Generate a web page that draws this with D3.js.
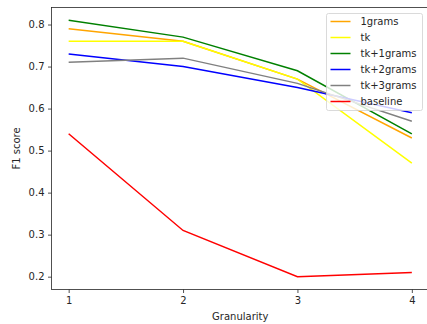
<!DOCTYPE html>
<html>
<head>
<meta charset="utf-8">
<script src="https://cdn.jsdelivr.net/npm/d3@7"></script>
<style>
  body { margin: 0; background: #fff; }
  text { font-family: "DejaVu Sans", sans-serif; fill: #262626; }
</style>
</head>
<body>
<div id="chart"></div>
<script>
var granularity = [1, 2, 3, 4];
var seriesNames = ['1grams', 'tk', 'tk+1grams', 'tk+2grams', 'tk+3grams', 'baseline'];
var seriesColors = ['orange', 'yellow', 'green', 'blue', 'gray', 'red'];
var grams1 = [0.79, 0.76, 0.67, 0.53];
var tk = [0.76, 0.76, 0.67, 0.47];
var tk1grams = [0.81, 0.77, 0.69, 0.54];
var tk2grams = [0.73, 0.70, 0.65, 0.59];
var tk3grams = [0.71, 0.72, 0.66, 0.57];
var baseline = [0.54, 0.31, 0.20, 0.21];
var yTicks = [0.2, 0.3, 0.4, 0.5, 0.6, 0.7, 0.8];

var seriesValues = [grams1, tk, tk1grams, tk2grams, tk3grams, baseline];

var width = 427, height = 324;
var margin = { left: 51.5, top: 7.5, right: -2, bottom: 34.5 };

var svg = d3.select('#chart').append('svg')
  .attr('width', width)
  .attr('height', height);

// matplotlib-style 5% padding
var x = d3.scaleLinear().domain([0.85, 4.15])
  .range([margin.left, width - margin.right]);
var y = d3.scaleLinear().domain([0.1695, 0.8405])
  .range([height - margin.bottom, margin.top]);

var line = d3.line()
  .x(function(d, i) { return x(granularity[i]); })
  .y(function(d) { return y(d); });

svg.append('g').selectAll('path')
  .data(seriesValues)
  .enter().append('path')
  .attr('d', line)
  .attr('fill', 'none')
  .attr('stroke', function(d, i) { return seriesColors[i]; })
  .attr('stroke-width', 1.5);

// axes
var xAxis = svg.append('g')
  .attr('transform', 'translate(0,' + (height - margin.bottom) + ')')
  .call(d3.axisBottom(x).tickValues(granularity).tickFormat(d3.format('d'))
    .tickSize(3.5).tickPadding(3.5));

var yAxis = svg.append('g')
  .attr('transform', 'translate(' + margin.left + ',0)')
  .call(d3.axisLeft(y).tickValues(yTicks).tickFormat(d3.format('.1f'))
    .tickSize(3.5).tickPadding(3.5));

[xAxis, yAxis].forEach(function(a) {
  a.selectAll('text').attr('font-size', 10).attr('font-family', '"DejaVu Sans", sans-serif').attr('fill', '#262626');
  a.selectAll('line').attr('stroke', '#262626').attr('stroke-width', 0.8);
  a.select('.domain').remove();
});

// spines
svg.append('rect')
  .attr('x', margin.left)
  .attr('y', margin.top)
  .attr('width', x(4.15) - margin.left)
  .attr('height', y(0.1695) - margin.top)
  .attr('fill', 'none')
  .attr('stroke', '#262626')
  .attr('stroke-width', 0.8);

svg.append('text')
  .attr('x', (margin.left + x(4.15)) / 2)
  .attr('y', 320)
  .attr('text-anchor', 'middle')
  .attr('font-size', 10)
  .text('Granularity');

svg.append('text')
  .attr('transform', 'translate(20,' + ((margin.top + y(0.1695)) / 2) + ') rotate(-90)')
  .attr('text-anchor', 'middle')
  .attr('font-size', 10)
  .text('F1 score');

// legend
var legend = svg.append('g').attr('transform', 'translate(326.5,13.5)');
legend.append('rect')
  .attr('width', 96)
  .attr('height', 97)
  .attr('rx', 2)
  .attr('fill', 'rgba(255,255,255,0.8)')
  .attr('stroke', '#d0d0d0')
  .attr('stroke-width', 0.8);

var item = legend.selectAll('g.item')
  .data(seriesNames)
  .enter().append('g')
  .attr('class', 'item')
  .attr('transform', function(d, i) { return 'translate(0,' + (8 + i * 16) + ')'; });

item.append('line')
  .attr('x1', 4).attr('x2', 24)
  .attr('stroke', function(d, i) { return seriesColors[i]; })
  .attr('stroke-width', 1.5);

item.append('text')
  .attr('x', 34)
  .attr('dy', '0.35em')
  .attr('font-size', 10)
  .text(function(d) { return d; });
</script>
</body>
</html>
